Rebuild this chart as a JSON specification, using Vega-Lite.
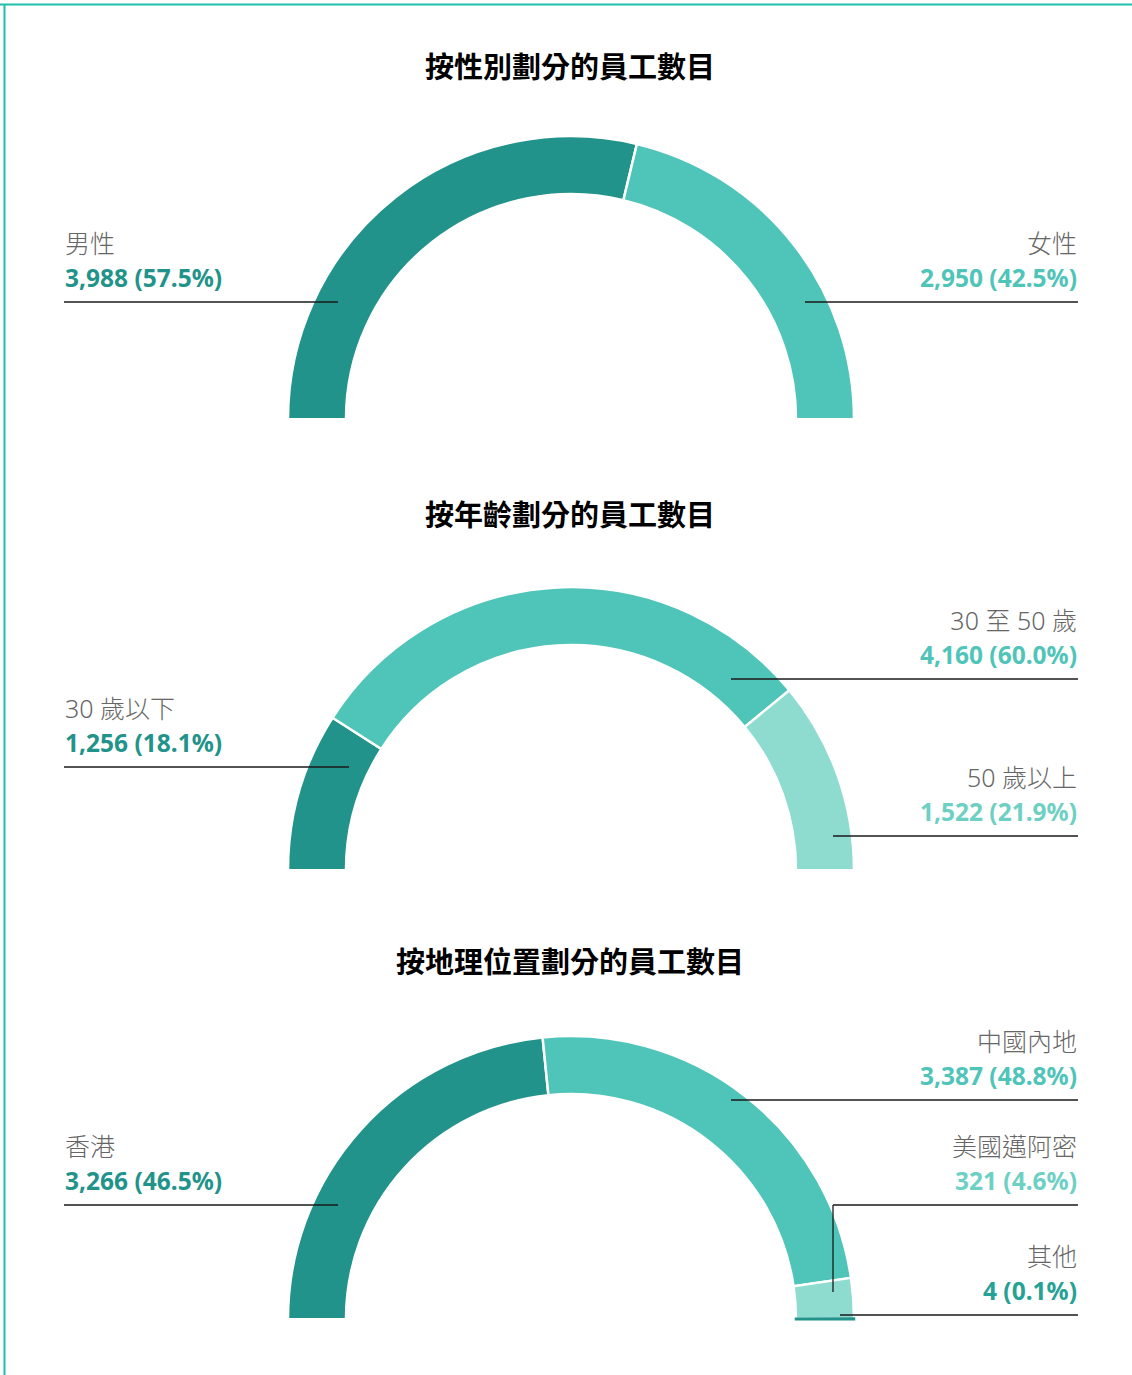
{
  "$schema": "https://vega.github.io/schema/vega-lite/v6.json",
  "width": 1132,
  "height": 1375,
  "autosize": {"type": "none"},
  "padding": 0,
  "background": "white",
  "config": {"view": {"stroke": null}},
  "datasets": {
    "gender": [
      {"i": 1, "cat": "男性", "count": 3988, "label": "3,988 (57.5%)"},
      {"i": 2, "cat": "女性", "count": 2950, "label": "2,950 (42.5%)"}
    ],
    "age": [
      {"i": 1, "cat": "30 歲以下", "count": 1256, "label": "1,256 (18.1%)"},
      {"i": 2, "cat": "30 至 50 歲", "count": 4160, "label": "4,160 (60.0%)"},
      {"i": 3, "cat": "50 歲以上", "count": 1522, "label": "1,522 (21.9%)"}
    ],
    "geo": [
      {"i": 1, "cat": "香港", "count": 3266, "label": "3,266 (46.5%)"},
      {"i": 2, "cat": "中國內地", "count": 3387, "label": "3,387 (48.8%)"},
      {"i": 3, "cat": "美國邁阿密", "count": 321, "label": "321 (4.6%)"},
      {"i": 4, "cat": "其他", "count": 4, "label": "4 (0.1%)"}
    ],
    "titles": [
      {"i": 1, "t": "按性別劃分的員工數目"},
      {"i": 2, "t": "按年齡劃分的員工數目"},
      {"i": 3, "t": "按地理位置劃分的員工數目"}
    ]
  },
  "resolve": {"scale": {"theta": "independent", "color": "independent"}},
  "layer": [
    {
      "data": {"values": [{}]},
      "mark": {"type": "rule", "color": "#1CBFAD", "strokeWidth": 2},
      "encoding": {
        "x": {"datum": -2.0248, "type": "quantitative", "scale": {"domain": [-2.0248, 1.9894], "nice": false, "zero": false}, "axis": null},
        "x2": {"datum": 1.9894},
        "y": {"datum": 1.4663, "type": "quantitative", "scale": {"domain": [-3.3936, 1.4823], "nice": false, "zero": false}, "axis": null}
      }
    },
    {
      "data": {"values": [{}]},
      "mark": {"type": "rule", "color": "#1CBFAD", "strokeWidth": 2},
      "encoding": {
        "x": {"datum": -2.0089, "type": "quantitative", "scale": {"domain": [-2.0248, 1.9894], "nice": false, "zero": false}, "axis": null},
        "y": {"datum": 1.4663, "type": "quantitative", "scale": {"domain": [-3.3936, 1.4823], "nice": false, "zero": false}, "axis": null},
        "y2": {"datum": -3.3936}
      }
    },
    {
      "data": {"name": "titles"},
      "transform": [{"filter": "datum.i === 1"}],
      "mark": {"type": "text", "align": "center", "baseline": "alphabetic", "font": "Noto Sans CJK TC", "fontSize": 29, "fontWeight": "bold", "color": "#000000"},
      "encoding": {
        "x": {"datum": -0.0035, "type": "quantitative", "scale": {"domain": [-2.0248, 1.9894], "nice": false, "zero": false}, "axis": null},
        "y": {"datum": 1.2057, "type": "quantitative", "scale": {"domain": [-3.3936, 1.4823], "nice": false, "zero": false}, "axis": null},
        "text": {"field": "t"}
      }
    },
    {
      "data": {"name": "titles"},
      "transform": [{"filter": "datum.i === 2"}],
      "mark": {"type": "text", "align": "center", "baseline": "alphabetic", "font": "Noto Sans CJK TC", "fontSize": 29, "fontWeight": "bold", "color": "#000000"},
      "encoding": {
        "x": {"datum": -0.0035, "type": "quantitative", "scale": {"domain": [-2.0248, 1.9894], "nice": false, "zero": false}, "axis": null},
        "y": {"datum": -0.3830, "type": "quantitative", "scale": {"domain": [-3.3936, 1.4823], "nice": false, "zero": false}, "axis": null},
        "text": {"field": "t"}
      }
    },
    {
      "data": {"name": "titles"},
      "transform": [{"filter": "datum.i === 3"}],
      "mark": {"type": "text", "align": "center", "baseline": "alphabetic", "font": "Noto Sans CJK TC", "fontSize": 29, "fontWeight": "bold", "color": "#000000"},
      "encoding": {
        "x": {"datum": -0.0035, "type": "quantitative", "scale": {"domain": [-2.0248, 1.9894], "nice": false, "zero": false}, "axis": null},
        "y": {"datum": -1.9681, "type": "quantitative", "scale": {"domain": [-3.3936, 1.4823], "nice": false, "zero": false}, "axis": null},
        "text": {"field": "t"}
      }
    },
    {
      "data": {"name": "gender"},
      "mark": {"type": "arc", "outerRadius": 283, "innerRadius": 225, "stroke": "white", "strokeWidth": 2.5},
      "encoding": {
        "x": {"datum": 0, "type": "quantitative", "scale": {"domain": [-2.0248, 1.9894], "nice": false, "zero": false}, "axis": null},
        "y": {"datum": -0.004, "type": "quantitative", "scale": {"domain": [-3.3936, 1.4823], "nice": false, "zero": false}, "axis": null},
        "theta": {"field": "count", "type": "quantitative", "stack": true, "scale": {"range": [-1.5707963, 1.5707963]}},
        "order": {"field": "i", "type": "quantitative"},
        "color": {"field": "cat", "type": "nominal", "scale": {"domain": ["男性", "女性"], "range": ["#22938A", "#4FC4B8"]}, "legend": null}
      }
    },
    {
      "data": {"name": "age"},
      "mark": {"type": "arc", "outerRadius": 283, "innerRadius": 225, "stroke": "white", "strokeWidth": 2.5},
      "encoding": {
        "x": {"datum": 0, "type": "quantitative", "scale": {"domain": [-2.0248, 1.9894], "nice": false, "zero": false}, "axis": null},
        "y": {"datum": -1.6033, "type": "quantitative", "scale": {"domain": [-3.3936, 1.4823], "nice": false, "zero": false}, "axis": null},
        "theta": {"field": "count", "type": "quantitative", "stack": true, "scale": {"range": [-1.5707963, 1.5707963]}},
        "order": {"field": "i", "type": "quantitative"},
        "color": {"field": "cat", "type": "nominal", "scale": {"domain": ["30 歲以下", "30 至 50 歲", "50 歲以上"], "range": ["#22938A", "#4FC4B8", "#8EDBD0"]}, "legend": null}
      }
    },
    {
      "data": {"name": "geo"},
      "mark": {"type": "arc", "outerRadius": 283, "innerRadius": 225, "strokeWidth": 2.5},
      "encoding": {
        "x": {"datum": 0, "type": "quantitative", "scale": {"domain": [-2.0248, 1.9894], "nice": false, "zero": false}, "axis": null},
        "y": {"datum": -3.1955, "type": "quantitative", "scale": {"domain": [-3.3936, 1.4823], "nice": false, "zero": false}, "axis": null},
        "theta": {"field": "count", "type": "quantitative", "stack": true, "scale": {"range": [-1.5707963, 1.5707963]}},
        "order": {"field": "i", "type": "quantitative"},
        "color": {"field": "cat", "type": "nominal", "scale": {"domain": ["香港", "中國內地", "美國邁阿密", "其他"], "range": ["#22938A", "#4FC4B8", "#8EDBD0", "#22938A"]}, "legend": null},
        "stroke": {"condition": {"test": "datum.cat === '其他'", "value": "#22938A"}, "value": "white"}
      }
    },
    {
      "data": {"name": "gender"},
      "transform": [{"filter": "datum.cat === '男性'"}],
      "layer": [
        {"mark": {"type": "text", "align": "left", "baseline": "alphabetic", "font": "'Noto Sans', 'Noto Sans CJK TC', sans-serif", "fontSize": 25, "fontWeight": 300, "color": "#666666"},
         "encoding": {"x": {"datum": -1.7943, "type": "quantitative", "scale": {"domain": [-2.0248, 1.9894], "nice": false, "zero": false}, "axis": null}, "y": {"datum": 0.5851, "type": "quantitative", "scale": {"domain": [-3.3936, 1.4823], "nice": false, "zero": false}, "axis": null}, "text": {"field": "cat"}}},
        {"mark": {"type": "text", "align": "left", "baseline": "alphabetic", "font": "'Noto Sans', 'Noto Sans CJK TC', sans-serif", "fontSize": 24.5, "fontWeight": "bold", "color": "#22938A"},
         "encoding": {"x": {"datum": -1.7943, "type": "quantitative", "scale": {"domain": [-2.0248, 1.9894], "nice": false, "zero": false}, "axis": null}, "y": {"datum": 0.4645, "type": "quantitative", "scale": {"domain": [-3.3936, 1.4823], "nice": false, "zero": false}, "axis": null}, "text": {"field": "label"}}},
        {"mark": {"type": "rule", "color": "#1a1a1a", "strokeWidth": 1.3},
         "encoding": {"x": {"datum": -1.7979, "type": "quantitative", "scale": {"domain": [-2.0248, 1.9894], "nice": false, "zero": false}, "axis": null}, "x2": {"datum": -0.8262}, "y": {"datum": 0.4113, "type": "quantitative", "scale": {"domain": [-3.3936, 1.4823], "nice": false, "zero": false}, "axis": null}}}
      ]
    },
    {
      "data": {"name": "gender"},
      "transform": [{"filter": "datum.cat === '女性'"}],
      "layer": [
        {"mark": {"type": "text", "align": "right", "baseline": "alphabetic", "font": "'Noto Sans', 'Noto Sans CJK TC', sans-serif", "fontSize": 25, "fontWeight": 300, "color": "#666666"},
         "encoding": {"x": {"datum": 1.7943, "type": "quantitative", "scale": {"domain": [-2.0248, 1.9894], "nice": false, "zero": false}, "axis": null}, "y": {"datum": 0.5851, "type": "quantitative", "scale": {"domain": [-3.3936, 1.4823], "nice": false, "zero": false}, "axis": null}, "text": {"field": "cat"}}},
        {"mark": {"type": "text", "align": "right", "baseline": "alphabetic", "font": "'Noto Sans', 'Noto Sans CJK TC', sans-serif", "fontSize": 24.5, "fontWeight": "bold", "color": "#4FC4B8"},
         "encoding": {"x": {"datum": 1.7943, "type": "quantitative", "scale": {"domain": [-2.0248, 1.9894], "nice": false, "zero": false}, "axis": null}, "y": {"datum": 0.4645, "type": "quantitative", "scale": {"domain": [-3.3936, 1.4823], "nice": false, "zero": false}, "axis": null}, "text": {"field": "label"}}},
        {"mark": {"type": "rule", "color": "#1a1a1a", "strokeWidth": 1.3},
         "encoding": {"x": {"datum": 0.8298, "type": "quantitative", "scale": {"domain": [-2.0248, 1.9894], "nice": false, "zero": false}, "axis": null}, "x2": {"datum": 1.7979}, "y": {"datum": 0.4113, "type": "quantitative", "scale": {"domain": [-3.3936, 1.4823], "nice": false, "zero": false}, "axis": null}}}
      ]
    },
    {
      "data": {"name": "age"},
      "transform": [{"filter": "datum.cat === '30 歲以下'"}],
      "layer": [
        {"mark": {"type": "text", "align": "left", "baseline": "alphabetic", "font": "'Noto Sans', 'Noto Sans CJK TC', sans-serif", "fontSize": 25, "fontWeight": 300, "color": "#666666"},
         "encoding": {"x": {"datum": -1.7943, "type": "quantitative", "scale": {"domain": [-2.0248, 1.9894], "nice": false, "zero": false}, "axis": null}, "y": {"datum": -1.0638, "type": "quantitative", "scale": {"domain": [-3.3936, 1.4823], "nice": false, "zero": false}, "axis": null}, "text": {"field": "cat"}}},
        {"mark": {"type": "text", "align": "left", "baseline": "alphabetic", "font": "'Noto Sans', 'Noto Sans CJK TC', sans-serif", "fontSize": 24.5, "fontWeight": "bold", "color": "#22938A"},
         "encoding": {"x": {"datum": -1.7943, "type": "quantitative", "scale": {"domain": [-2.0248, 1.9894], "nice": false, "zero": false}, "axis": null}, "y": {"datum": -1.1844, "type": "quantitative", "scale": {"domain": [-3.3936, 1.4823], "nice": false, "zero": false}, "axis": null}, "text": {"field": "label"}}},
        {"mark": {"type": "rule", "color": "#1a1a1a", "strokeWidth": 1.3},
         "encoding": {"x": {"datum": -1.7979, "type": "quantitative", "scale": {"domain": [-2.0248, 1.9894], "nice": false, "zero": false}, "axis": null}, "x2": {"datum": -0.7872}, "y": {"datum": -1.2376, "type": "quantitative", "scale": {"domain": [-3.3936, 1.4823], "nice": false, "zero": false}, "axis": null}}}
      ]
    },
    {
      "data": {"name": "age"},
      "transform": [{"filter": "datum.cat === '30 至 50 歲'"}],
      "layer": [
        {"mark": {"type": "text", "align": "right", "baseline": "alphabetic", "font": "'Noto Sans', 'Noto Sans CJK TC', sans-serif", "fontSize": 25, "fontWeight": 300, "color": "#666666"},
         "encoding": {"x": {"datum": 1.7943, "type": "quantitative", "scale": {"domain": [-2.0248, 1.9894], "nice": false, "zero": false}, "axis": null}, "y": {"datum": -0.7518, "type": "quantitative", "scale": {"domain": [-3.3936, 1.4823], "nice": false, "zero": false}, "axis": null}, "text": {"field": "cat"}}},
        {"mark": {"type": "text", "align": "right", "baseline": "alphabetic", "font": "'Noto Sans', 'Noto Sans CJK TC', sans-serif", "fontSize": 24.5, "fontWeight": "bold", "color": "#4FC4B8"},
         "encoding": {"x": {"datum": 1.7943, "type": "quantitative", "scale": {"domain": [-2.0248, 1.9894], "nice": false, "zero": false}, "axis": null}, "y": {"datum": -0.8723, "type": "quantitative", "scale": {"domain": [-3.3936, 1.4823], "nice": false, "zero": false}, "axis": null}, "text": {"field": "label"}}},
        {"mark": {"type": "rule", "color": "#1a1a1a", "strokeWidth": 1.3},
         "encoding": {"x": {"datum": 0.5674, "type": "quantitative", "scale": {"domain": [-2.0248, 1.9894], "nice": false, "zero": false}, "axis": null}, "x2": {"datum": 1.7979}, "y": {"datum": -0.9255, "type": "quantitative", "scale": {"domain": [-3.3936, 1.4823], "nice": false, "zero": false}, "axis": null}}}
      ]
    },
    {
      "data": {"name": "age"},
      "transform": [{"filter": "datum.cat === '50 歲以上'"}],
      "layer": [
        {"mark": {"type": "text", "align": "right", "baseline": "alphabetic", "font": "'Noto Sans', 'Noto Sans CJK TC', sans-serif", "fontSize": 25, "fontWeight": 300, "color": "#666666"},
         "encoding": {"x": {"datum": 1.7943, "type": "quantitative", "scale": {"domain": [-2.0248, 1.9894], "nice": false, "zero": false}, "axis": null}, "y": {"datum": -1.3085, "type": "quantitative", "scale": {"domain": [-3.3936, 1.4823], "nice": false, "zero": false}, "axis": null}, "text": {"field": "cat"}}},
        {"mark": {"type": "text", "align": "right", "baseline": "alphabetic", "font": "'Noto Sans', 'Noto Sans CJK TC', sans-serif", "fontSize": 24.5, "fontWeight": "bold", "color": "#6ED0C3"},
         "encoding": {"x": {"datum": 1.7943, "type": "quantitative", "scale": {"domain": [-2.0248, 1.9894], "nice": false, "zero": false}, "axis": null}, "y": {"datum": -1.4291, "type": "quantitative", "scale": {"domain": [-3.3936, 1.4823], "nice": false, "zero": false}, "axis": null}, "text": {"field": "label"}}},
        {"mark": {"type": "rule", "color": "#1a1a1a", "strokeWidth": 1.3},
         "encoding": {"x": {"datum": 0.9291, "type": "quantitative", "scale": {"domain": [-2.0248, 1.9894], "nice": false, "zero": false}, "axis": null}, "x2": {"datum": 1.7979}, "y": {"datum": -1.4823, "type": "quantitative", "scale": {"domain": [-3.3936, 1.4823], "nice": false, "zero": false}, "axis": null}}}
      ]
    },
    {
      "data": {"name": "geo"},
      "transform": [{"filter": "datum.cat === '香港'"}],
      "layer": [
        {"mark": {"type": "text", "align": "left", "baseline": "alphabetic", "font": "'Noto Sans', 'Noto Sans CJK TC', sans-serif", "fontSize": 25, "fontWeight": 300, "color": "#666666"},
         "encoding": {"x": {"datum": -1.7943, "type": "quantitative", "scale": {"domain": [-2.0248, 1.9894], "nice": false, "zero": false}, "axis": null}, "y": {"datum": -2.6170, "type": "quantitative", "scale": {"domain": [-3.3936, 1.4823], "nice": false, "zero": false}, "axis": null}, "text": {"field": "cat"}}},
        {"mark": {"type": "text", "align": "left", "baseline": "alphabetic", "font": "'Noto Sans', 'Noto Sans CJK TC', sans-serif", "fontSize": 24.5, "fontWeight": "bold", "color": "#22938A"},
         "encoding": {"x": {"datum": -1.7943, "type": "quantitative", "scale": {"domain": [-2.0248, 1.9894], "nice": false, "zero": false}, "axis": null}, "y": {"datum": -2.7376, "type": "quantitative", "scale": {"domain": [-3.3936, 1.4823], "nice": false, "zero": false}, "axis": null}, "text": {"field": "label"}}},
        {"mark": {"type": "rule", "color": "#1a1a1a", "strokeWidth": 1.3},
         "encoding": {"x": {"datum": -1.7979, "type": "quantitative", "scale": {"domain": [-2.0248, 1.9894], "nice": false, "zero": false}, "axis": null}, "x2": {"datum": -0.8262}, "y": {"datum": -2.7908, "type": "quantitative", "scale": {"domain": [-3.3936, 1.4823], "nice": false, "zero": false}, "axis": null}}}
      ]
    },
    {
      "data": {"name": "geo"},
      "transform": [{"filter": "datum.cat === '中國內地'"}],
      "layer": [
        {"mark": {"type": "text", "align": "right", "baseline": "alphabetic", "font": "'Noto Sans', 'Noto Sans CJK TC', sans-serif", "fontSize": 25, "fontWeight": 300, "color": "#666666"},
         "encoding": {"x": {"datum": 1.7943, "type": "quantitative", "scale": {"domain": [-2.0248, 1.9894], "nice": false, "zero": false}, "axis": null}, "y": {"datum": -2.2447, "type": "quantitative", "scale": {"domain": [-3.3936, 1.4823], "nice": false, "zero": false}, "axis": null}, "text": {"field": "cat"}}},
        {"mark": {"type": "text", "align": "right", "baseline": "alphabetic", "font": "'Noto Sans', 'Noto Sans CJK TC', sans-serif", "fontSize": 24.5, "fontWeight": "bold", "color": "#4FC4B8"},
         "encoding": {"x": {"datum": 1.7943, "type": "quantitative", "scale": {"domain": [-2.0248, 1.9894], "nice": false, "zero": false}, "axis": null}, "y": {"datum": -2.3652, "type": "quantitative", "scale": {"domain": [-3.3936, 1.4823], "nice": false, "zero": false}, "axis": null}, "text": {"field": "label"}}},
        {"mark": {"type": "rule", "color": "#1a1a1a", "strokeWidth": 1.3},
         "encoding": {"x": {"datum": 0.5674, "type": "quantitative", "scale": {"domain": [-2.0248, 1.9894], "nice": false, "zero": false}, "axis": null}, "x2": {"datum": 1.7979}, "y": {"datum": -2.4184, "type": "quantitative", "scale": {"domain": [-3.3936, 1.4823], "nice": false, "zero": false}, "axis": null}}}
      ]
    },
    {
      "data": {"name": "geo"},
      "transform": [{"filter": "datum.cat === '美國邁阿密'"}],
      "layer": [
        {"mark": {"type": "text", "align": "right", "baseline": "alphabetic", "font": "'Noto Sans', 'Noto Sans CJK TC', sans-serif", "fontSize": 25, "fontWeight": 300, "color": "#666666"},
         "encoding": {"x": {"datum": 1.7943, "type": "quantitative", "scale": {"domain": [-2.0248, 1.9894], "nice": false, "zero": false}, "axis": null}, "y": {"datum": -2.6170, "type": "quantitative", "scale": {"domain": [-3.3936, 1.4823], "nice": false, "zero": false}, "axis": null}, "text": {"field": "cat"}}},
        {"mark": {"type": "text", "align": "right", "baseline": "alphabetic", "font": "'Noto Sans', 'Noto Sans CJK TC', sans-serif", "fontSize": 24.5, "fontWeight": "bold", "color": "#6ED0C3"},
         "encoding": {"x": {"datum": 1.7943, "type": "quantitative", "scale": {"domain": [-2.0248, 1.9894], "nice": false, "zero": false}, "axis": null}, "y": {"datum": -2.7376, "type": "quantitative", "scale": {"domain": [-3.3936, 1.4823], "nice": false, "zero": false}, "axis": null}, "text": {"field": "label"}}},
        {"mark": {"type": "rule", "color": "#1a1a1a", "strokeWidth": 1.3},
         "encoding": {"x": {"datum": 0.9291, "type": "quantitative", "scale": {"domain": [-2.0248, 1.9894], "nice": false, "zero": false}, "axis": null}, "x2": {"datum": 1.7979}, "y": {"datum": -2.7908, "type": "quantitative", "scale": {"domain": [-3.3936, 1.4823], "nice": false, "zero": false}, "axis": null}}},
        {"mark": {"type": "rule", "color": "#1a1a1a", "strokeWidth": 1.3},
         "encoding": {"x": {"datum": 0.9291, "type": "quantitative", "scale": {"domain": [-2.0248, 1.9894], "nice": false, "zero": false}, "axis": null}, "y": {"datum": -2.7908, "type": "quantitative", "scale": {"domain": [-3.3936, 1.4823], "nice": false, "zero": false}, "axis": null}, "y2": {"datum": -3.0993}}}
      ]
    },
    {
      "data": {"name": "geo"},
      "transform": [{"filter": "datum.cat === '其他'"}],
      "layer": [
        {"mark": {"type": "text", "align": "right", "baseline": "alphabetic", "font": "'Noto Sans', 'Noto Sans CJK TC', sans-serif", "fontSize": 25, "fontWeight": 300, "color": "#666666"},
         "encoding": {"x": {"datum": 1.7943, "type": "quantitative", "scale": {"domain": [-2.0248, 1.9894], "nice": false, "zero": false}, "axis": null}, "y": {"datum": -3.0071, "type": "quantitative", "scale": {"domain": [-3.3936, 1.4823], "nice": false, "zero": false}, "axis": null}, "text": {"field": "cat"}}},
        {"mark": {"type": "text", "align": "right", "baseline": "alphabetic", "font": "'Noto Sans', 'Noto Sans CJK TC', sans-serif", "fontSize": 24.5, "fontWeight": "bold", "color": "#26A195"},
         "encoding": {"x": {"datum": 1.7943, "type": "quantitative", "scale": {"domain": [-2.0248, 1.9894], "nice": false, "zero": false}, "axis": null}, "y": {"datum": -3.1277, "type": "quantitative", "scale": {"domain": [-3.3936, 1.4823], "nice": false, "zero": false}, "axis": null}, "text": {"field": "label"}}},
        {"mark": {"type": "rule", "color": "#1a1a1a", "strokeWidth": 1.3},
         "encoding": {"x": {"datum": 0.9539, "type": "quantitative", "scale": {"domain": [-2.0248, 1.9894], "nice": false, "zero": false}, "axis": null}, "x2": {"datum": 1.7979}, "y": {"datum": -3.1809, "type": "quantitative", "scale": {"domain": [-3.3936, 1.4823], "nice": false, "zero": false}, "axis": null}}}
      ]
    }
  ]
}
